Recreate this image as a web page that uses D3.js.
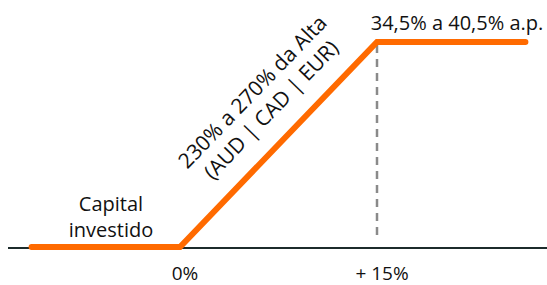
<!DOCTYPE html>
<html>
<head>
<meta charset="utf-8">
<script src="https://cdn.jsdelivr.net/npm/d3@7"></script>
<style>
  body { margin: 0; background: #fff; }
  text { font-family: "Open Sans", "Noto Sans", sans-serif; fill: #111; }
</style>
</head>
<body>
<div id="chart"></div>
<script>
// payoff profile: underlying move (%) vs payoff level (0 = capital, 1 = cap)
const underlying = [-11.3, 0, 15, 26.3];
const payoff = [0, 0, 1, 1];
const tickValues = [0, 15];
const tickLabels = ["0%", "+ 15%"];
const capLabel = "34,5% a 40,5% a.p.";
const slopeLabel = ["230% a 270% da Alta", "(AUD | CAD | EUR)"];
const floorLabel = ["Capital", "investido"];

const w = 547, h = 285;

const x = d3.scaleLinear().domain([0, 15]).range([180, 377]);
const y = d3.scaleLinear().domain([0, 1]).range([247, 42]);

const svg = d3.select("#chart").append("svg")
  .attr("width", w)
  .attr("height", h);

const pts = underlying.map((u, i) => ({ u: u, p: payoff[i] }));

// baseline
svg.append("line")
  .attr("x1", 8).attr("x2", w)
  .attr("y1", y(0) + 1).attr("y2", y(0) + 1)
  .attr("stroke", "#1c2b2b")
  .attr("stroke-width", 2);

// dashed marker at the cap
svg.append("line")
  .attr("x1", x(15)).attr("x2", x(15))
  .attr("y1", y(1) + 3).attr("y2", y(0) - 6)
  .attr("stroke", "#8a8a8a")
  .attr("stroke-width", 2.5)
  .attr("stroke-dasharray", "8,6");

// payoff line
const line = d3.line().x(d => x(d.u)).y(d => y(d.p));
svg.append("path")
  .datum(pts)
  .attr("d", line)
  .attr("fill", "none")
  .attr("stroke", "#ff6a00")
  .attr("stroke-width", 6)
  .attr("stroke-linecap", "round")
  .attr("stroke-linejoin", "miter");

// tick labels
svg.selectAll("text.tick")
  .data(tickValues)
  .enter()
  .append("text")
  .attr("class", "tick")
  .attr("x", d => x(d) + 5)
  .attr("y", 280)
  .attr("text-anchor", "middle")
  .style("font-size", "19px")
  .text((d, i) => tickLabels[i]);

// cap label
svg.append("text")
  .attr("x", 457)
  .attr("y", 30)
  .attr("text-anchor", "middle")
  .style("font-size", "20px")
  .text(capLabel);

// floor label, one text per line
svg.selectAll("text.floor")
  .data(floorLabel)
  .enter()
  .append("text")
  .attr("class", "floor")
  .attr("x", 111)
  .attr("y", (d, i) => 211 + i * 26)
  .attr("text-anchor", "middle")
  .style("font-size", "20px")
  .text(d => d);

// slope label, rotated along the line
const g = svg.append("g")
  .attr("transform", "translate(262,101) rotate(-46)");
g.append("text")
  .attr("text-anchor", "middle")
  .style("font-size", "21px")
  .selectAll("tspan")
  .data(slopeLabel)
  .enter()
  .append("tspan")
  .attr("x", 0)
  .attr("y", (d, i) => -6 + i * 26)
  .text(d => d);
</script>
</body>
</html>
